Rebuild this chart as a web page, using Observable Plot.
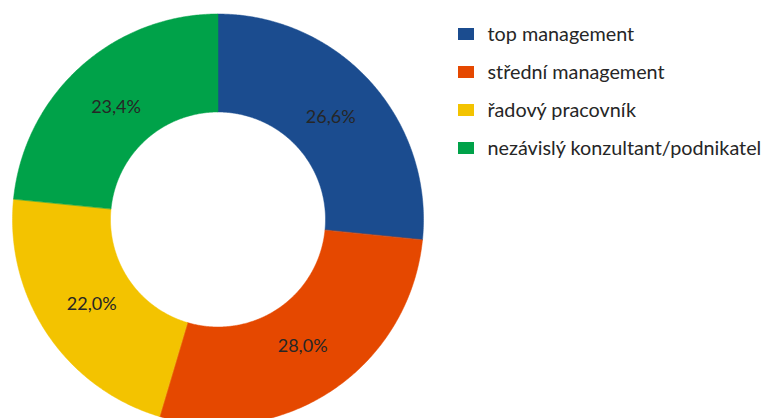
<!DOCTYPE html>
<html><head><meta charset="utf-8">
<script src="https://cdn.jsdelivr.net/npm/d3@7"></script>
<script src="https://cdn.jsdelivr.net/npm/@observablehq/plot@0.6"></script>
<style>body{margin:0;background:#fff}</style>
</head><body><div id="chart"></div>
<script>
const categories = ["top management", "střední management", "řadový pracovník", "nezávislý konzultant/podnikatel"];
const values = [26.6, 28.0, 22.0, 23.4];
const valueLabels = ["26,6%", "28,0%", "22,0%", "23,4%"];
const colors = ["#1b4c8f", "#e54800", "#f3c300", "#00a249"];

// layout (pixels)
const W = 766, H = 418;
const cx = 217.5, cy = 219, rOuter = 205.5, rInner = 107.5, rLabel = 152;
const legX = 458, legTextX = 487, legY0 = 34, legStep = 38;

const total = d3.sum(values);
const pts = [];
const labelData = [];
let acc = 0;
categories.forEach((c, i) => {
  const a0 = acc / total * 2 * Math.PI;
  acc += values[i];
  const a1 = acc / total * 2 * Math.PI;
  const n = Math.max(2, Math.ceil((a1 - a0) / (Math.PI / 360)));
  for (let k = 0; k <= n; k++) {
    const a = a0 + (a1 - a0) * k / n;
    pts.push({cat: c, x: cx + rOuter * Math.sin(a), y: cy - rOuter * Math.cos(a)});
  }
  for (let k = n; k >= 0; k--) {
    const a = a0 + (a1 - a0) * k / n;
    pts.push({cat: c, x: cx + rInner * Math.sin(a), y: cy - rInner * Math.cos(a)});
  }
  const am = (a0 + a1) / 2;
  labelData.push({label: valueLabels[i], x: cx + rLabel * Math.sin(am), y: cy - rLabel * Math.cos(am)});
});

const legend = categories.map((c, i) => ({cat: c, y: legY0 + i * legStep}));

const chart = Plot.plot({
  width: W, height: H,
  margin: 0,
  x: {domain: [0, W], range: [0, W], axis: null},
  y: {domain: [0, H], range: [0, H], axis: null},
  color: {domain: categories, range: colors},
  style: {fontFamily: "Lato, sans-serif", background: "#fff"},
  marks: [
    Plot.line(pts, {x: "x", y: "y", z: "cat", fill: "cat", stroke: "cat", strokeWidth: 0.5, curve: "linear-closed"}),
    Plot.text(labelData, {x: "x", y: "y", text: "label", fontSize: 18, fill: "#262626"}),
    Plot.rect(legend, {x1: legX, x2: legX + 16, y1: d => d.y - 6, y2: d => d.y + 6, fill: "cat"}),
    Plot.text(legend, {x: legTextX, y: "y", text: "cat", textAnchor: "start", fontSize: 19.8, fill: "#262626"})
  ]
});
document.getElementById("chart").append(chart);
</script>
</body></html>
